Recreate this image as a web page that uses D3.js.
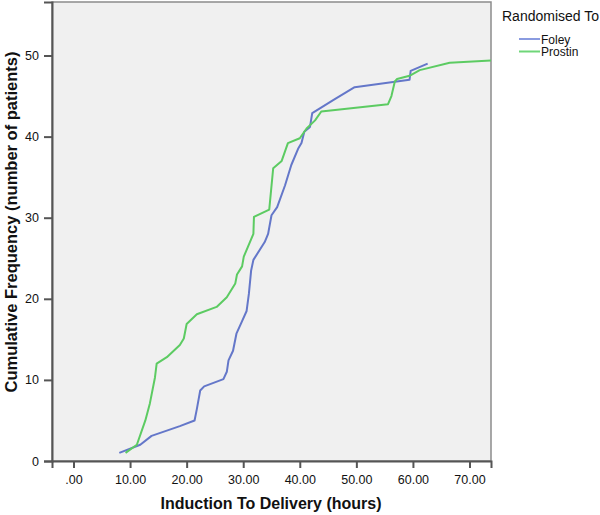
<!DOCTYPE html>
<html>
<head>
<meta charset="utf-8">
<script src="https://cdn.jsdelivr.net/npm/d3@7"></script>
<style>
  body { margin: 0; background: #fff; }
  text { font-family: "Liberation Sans", Arial, sans-serif; fill: #111; }
</style>
</head>
<body>
<svg id="chart" width="600" height="515"></svg>
<script>
'use strict';

// cumulative frequency per group
var foleyHours = [8.1, 11.8, 13.8, 18.8, 21.4, 21.8, 22.4, 23.1, 26.5, 27.1, 27.4, 28.2, 28.8, 29.7, 30.6,
    31.0, 31.4, 31.8, 33.8, 34.4, 35.0, 36.0, 37.4, 38.5, 39.7, 40.3, 40.8, 41.8, 42.2, 45.9, 49.7, 59.4, 59.6, 62.6];
var foleyCount = [1.0, 2.0, 3.1, 4.3, 5.0, 6.4, 8.7, 9.2, 10.1, 11.0, 12.4, 13.6, 15.7, 17.1, 18.5,
    20.6, 23.5, 24.8, 27.0, 28.0, 30.3, 31.3, 34.0, 36.5, 38.5, 39.2, 40.6, 41.2, 42.9, 44.5, 46.1, 47.0, 48.1, 49.0];

var prostinHours = [9.2, 11.2, 12.7, 13.5, 14.4, 14.7, 16.5, 18.8, 19.5, 20.0, 21.8, 25.3, 27.1, 28.6, 28.9,
    29.8, 30.1, 31.8, 31.9, 34.6, 35.3, 36.8, 37.9, 40.0, 41.2, 42.7, 43.8, 55.6, 56.2, 56.8, 57.2, 59.4, 61.2, 66.5, 73.8];
var prostinCount = [1.0, 2.0, 5.0, 7.1, 10.3, 12.0, 12.8, 14.3, 15.1, 16.9, 18.1, 19.0, 20.2, 21.9, 23.0,
    24.0, 25.2, 28.0, 30.1, 31.0, 36.1, 37.0, 39.2, 39.8, 41.0, 42.0, 43.1, 44.0, 45.0, 46.8, 47.1, 47.5, 48.2, 49.1, 49.4];

var xTicks = [0, 10, 20, 30, 40, 50, 60, 70];
var yTicks = [0, 10, 20, 30, 40, 50];
var groups = ['Foley', 'Prostin'];
var colors = ['#6477c9', '#5ccb62'];
var legendColors = ['#8a9be0', '#6fd679'];

// plot box
var box = {left: 52, right: 491, top: 2, bottom: 461};

var svg = d3.select('#chart');

var x = d3.scaleLinear().domain([-3.8, 73.8]).range([box.left, box.right]);
var y = d3.scaleLinear().domain([0, 56.6]).range([box.bottom, box.top]);

// background panel
svg.append('rect')
    .attr('x', box.left).attr('y', box.top)
    .attr('width', box.right - box.left).attr('height', box.bottom - box.top)
    .attr('fill', '#f0f0f0')
    .attr('stroke', '#8c8c8c')
    .attr('stroke-width', 1.5);

svg.append('clipPath').attr('id', 'clip')
    .append('rect')
    .attr('x', box.left).attr('y', box.top)
    .attr('width', box.right - box.left).attr('height', box.bottom - box.top);

// lines
var series = [
    d3.zip(foleyHours, foleyCount),
    d3.zip(prostinHours, prostinCount)
];

var line = d3.line()
    .x(function(d) { return x(d[0]); })
    .y(function(d) { return y(d[1]); });

svg.append('g').attr('clip-path', 'url(#clip)')
    .selectAll('path')
    .data(series)
    .enter().append('path')
    .attr('d', line)
    .attr('fill', 'none')
    .attr('stroke', function(d, i) { return colors[i]; })
    .attr('stroke-width', 2)
    .attr('stroke-linejoin', 'round');

// axes
var xAxis = svg.append('g')
    .attr('transform', 'translate(0,' + box.bottom + ')')
    .call(d3.axisBottom(x).tickValues(xTicks).tickSize(7).tickPadding(7)
        .tickFormat(function(d) { return d === 0 ? '.00' : d3.format('.2f')(d); }));

var yAxis = svg.append('g')
    .attr('transform', 'translate(' + box.left + ',0)')
    .call(d3.axisLeft(y).tickValues(yTicks).tickSize(8).tickPadding(5));

[xAxis, yAxis].forEach(function(a) {
    a.select('.domain').attr('stroke', '#555').attr('stroke-width', 2);
    a.selectAll('.tick line').attr('stroke', '#555').attr('stroke-width', 2);
    a.selectAll('.tick text')
        .style('font-family', '"Liberation Sans", Arial, sans-serif')
        .style('font-size', '12.5px')
        .attr('fill', '#111');
});

// axis titles
svg.append('text')
    .attr('x', 271).attr('y', 509)
    .attr('text-anchor', 'middle')
    .style('font-size', '16px').style('font-weight', 'bold')
    .text('Induction To Delivery (hours)');

svg.append('text')
    .attr('transform', 'translate(17,222) rotate(-90)')
    .attr('text-anchor', 'middle')
    .style('font-size', '16.5px').style('font-weight', 'bold')
    .text('Cumulative Frequency (number of patients)');

// legend
svg.append('text')
    .attr('x', 502).attr('y', 21)
    .style('font-size', '14px')
    .text('Randomised To');

var legend = svg.selectAll('.legend')
    .data(groups)
    .enter().append('g')
    .attr('class', 'legend')
    .attr('transform', function(d, i) { return 'translate(519,' + (39 + i * 12.5) + ')'; });

legend.append('line')
    .attr('x1', 0).attr('x2', 21)
    .attr('stroke', function(d, i) { return legendColors[i]; })
    .attr('stroke-width', 2);

legend.append('text')
    .attr('x', 22).attr('y', 4.5)
    .style('font-size', '12px')
    .text(function(d) { return d; });
</script>
</body>
</html>
